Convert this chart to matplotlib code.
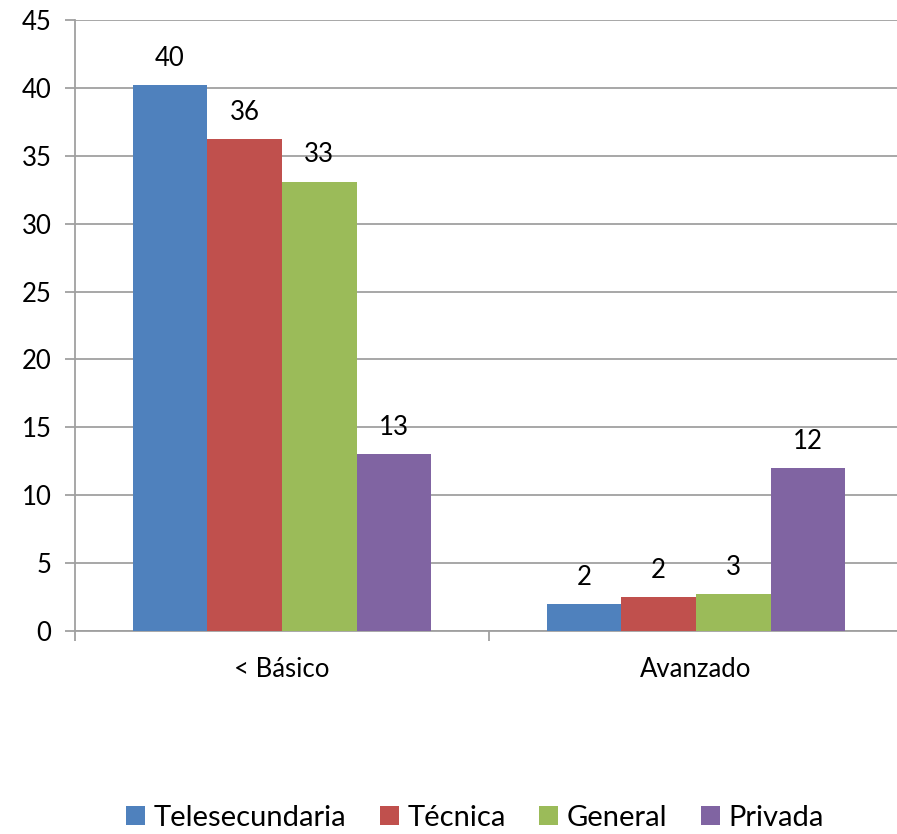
import matplotlib
matplotlib.use("Agg")
import matplotlib.pyplot as plt
import numpy as np

categories = ["< Básico", "Avanzado"]
series_names = ["Telesecundaria", "Técnica", "General", "Privada"]
telesecundaria = [40.2, 2.0]
tecnica = [36.2, 2.5]
general = [33.1, 2.7]
privada = [13.0, 12.0]
bar_labels = [["40", "2"], ["36", "2"], ["33", "3"], ["13", "12"]]
colors = ["#4F81BD", "#C0504D", "#9BBB59", "#8064A2"]
yticks = [0, 5, 10, 15, 20, 25, 30, 35, 40, 45]

plt.rcParams['font.family'] = ['Lato', 'DejaVu Sans']

fig = plt.figure(figsize=(8.97, 8.34), dpi=100)
ax = fig.add_axes([75/897, 1-631/834, 828/897, 611/834])

series = [telesecundaria, tecnica, general, privada]
x = np.arange(len(categories))
w = 0.1805
for i, (vals, name, c) in enumerate(zip(series, series_names, colors)):
    pos = x + (i - 1.5) * w
    ax.bar(pos, vals, width=w, color=c, label=name, zorder=3)
    for p, v, lab in zip(pos, vals, bar_labels[i]):
        ax.text(p, v + 1.05, lab, ha='center', va='bottom', fontsize=18.5, color='black')

ax.set_xlim(-0.5, 1.5)
ax.set_ylim(0, 45)
ax.set_yticks(yticks)
ax.yaxis.grid(True, color='#A0A0A0', linewidth=1.3, zorder=0)
ax.set_axisbelow(True)
ax.tick_params(axis='y', labelsize=18.5, length=7, color='#A0A0A0', width=1.3, pad=10)
ax.set_xticks([-0.5, 0.5, 1.5], minor=False)
ax.set_xticklabels([])
ax.tick_params(axis='x', which='major', length=7, color='#A0A0A0', width=1.3)
ax.set_xticks(x, minor=True)
ax.set_xticklabels(categories, minor=True, fontsize=18.5)
ax.tick_params(axis='x', which='minor', length=0, pad=19)
for s in ['top', 'right']:
    ax.spines[s].set_visible(False)
for s in ['left', 'bottom']:
    ax.spines[s].set_color('#A0A0A0')
    ax.spines[s].set_linewidth(1.3)

fig.legend(loc='center', bbox_to_anchor=(475/897, 1-818/834), ncol=4, frameon=False,
           fontsize=21, handlelength=0.65, handleheight=0.65, handletextpad=0.3,
           columnspacing=1.15)

fig.savefig("out.png", dpi=100)
